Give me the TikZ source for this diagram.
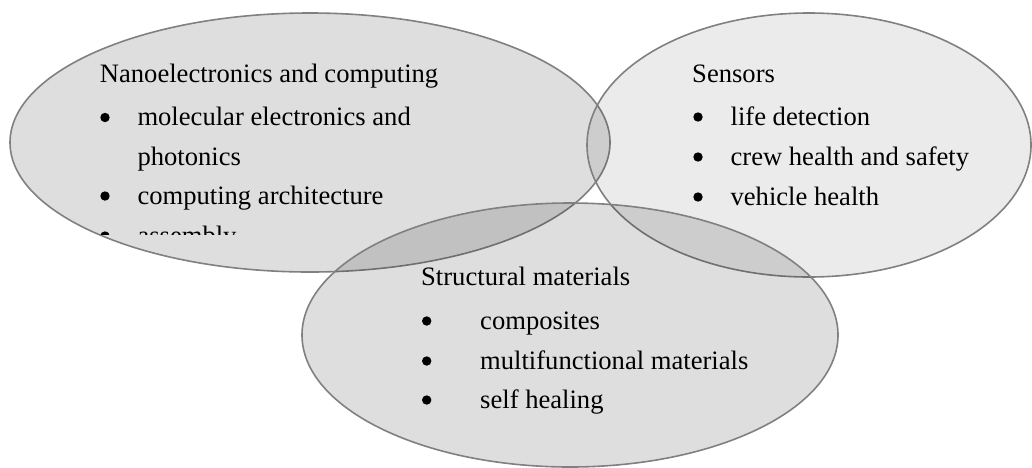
\documentclass[tikz,border=0pt]{standalone}
\usepackage{fontspec}
\setmainfont{Liberation Serif}
\usepackage{tikz}
\usetikzlibrary{shapes.geometric}

\tikzset{
	blob/.style = {draw = black!50, line width = 1.6pt, ellipse, inner sep = 0pt, fill = black},
	txt/.style = {anchor = base west, inner sep = 0pt, font = \fontsize{26.6}{32}\selectfont}
}

\begin{document}
\begin{tikzpicture}[x = 1pt, y = -1pt]
				\useasboundingbox (0,0) rectangle (1032,467);
				% the three areas
				\node[blob, fill opacity = .13, minimum width = 600pt, minimum height = 259pt] (nano) at (310,142.5) {};
				\node[blob, fill opacity = .08, minimum width = 444pt, minimum height = 264pt] (sens) at (809,145) {};
				\node[blob, fill opacity = .13, minimum width = 536pt, minimum height = 264pt] (struct) at (570,335) {};
				% Nanoelectronics
				\node[txt] (nanohead) at (99.7,82) {Nanoelectronics and computing};
				\node[txt] (nanoa) at (137.3,125.5) {molecular electronics and};
				\node[txt] (nanoa2) at (137.3,165) {photonics};
				\node[txt] (nanob) at (137.3,204) {computing architecture};
				\begin{scope}
					\clip (0,0) rectangle (1032,234);
					\node[txt] (nanoc) at (137.3,244) {assembly};
					\fill ([xshift = -32.3pt, yshift = 8pt]nanoc.base west) circle (4.7pt);
				\end{scope}
				\foreach \n in {nanoa, nanob}
					\fill ([xshift = -32.3pt, yshift = 8pt]\n.base west) circle (4.7pt);
				% Sensors
				\node[txt] (senshead) at (692,82) {Sensors};
				\node[txt] (sensa) at (730.4,125) {life detection};
				\node[txt] (sensb) at (730.4,165) {crew health and safety};
				\node[txt] (sensc) at (730.4,205) {vehicle health};
				\foreach \n in {sensa, sensb, sensc}
					\fill ([xshift = -32.4pt, yshift = 8pt]\n.base west) circle (4.7pt);
				% Structural materials
				\node[txt] (structhead) at (421,285) {Structural materials};
				\node[txt] (structa) at (480,329) {composites};
				\node[txt] (structb) at (480,369) {multifunctional materials};
				\node[txt] (structc) at (480,408) {self healing};
				\foreach \n in {structa, structb, structc}
					\fill ([xshift = -53.3pt, yshift = 8pt]\n.base west) circle (4.7pt);
			\end{tikzpicture}
\end{document}
